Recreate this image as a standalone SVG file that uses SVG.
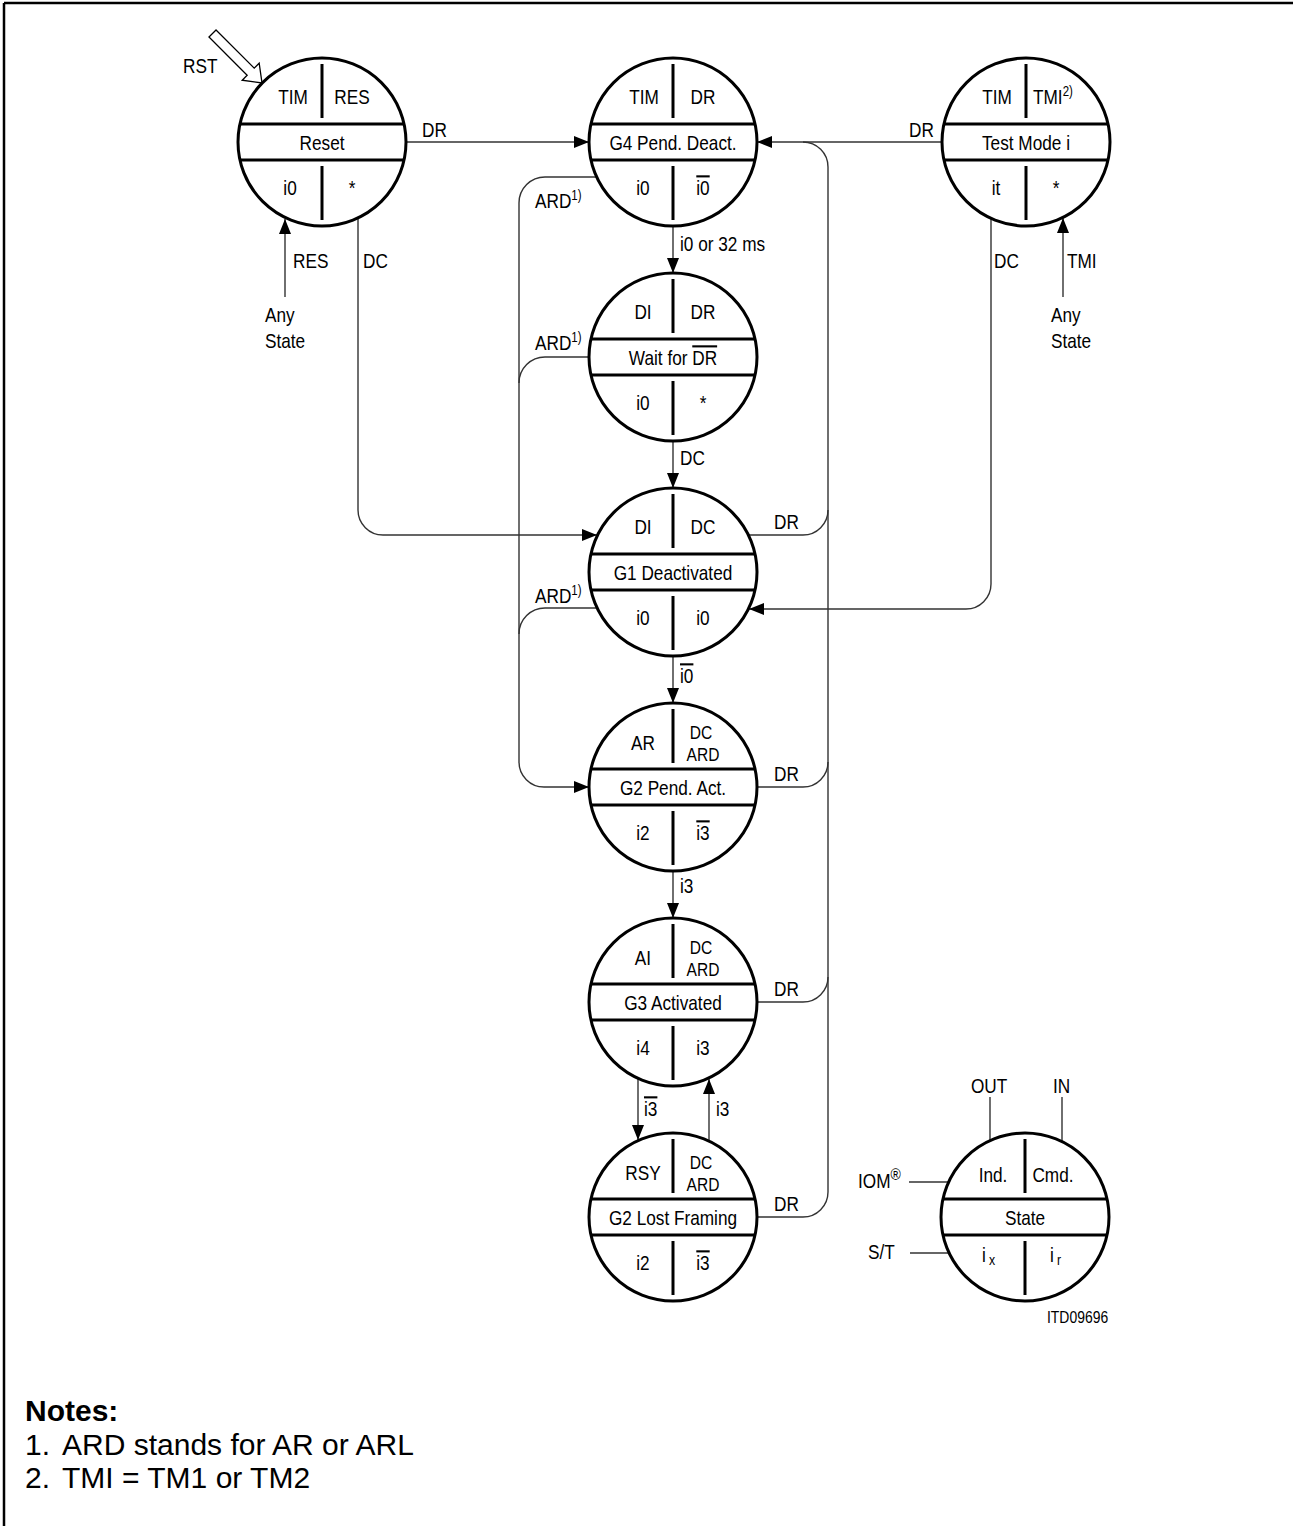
<svg xmlns="http://www.w3.org/2000/svg" xmlns:xlink="http://www.w3.org/1999/xlink" width="1293" height="1526" viewBox="0 0 1293 1526">
<style>
.t{font-family:"Liberation Sans",Arial,sans-serif;font-size:21px;fill:#000;transform-box:fill-box;transform-origin:50% 50%;transform:scaleX(0.82)}
.s{transform-origin:0 50%}
.m{text-anchor:middle}
.two{font-size:19px}
.sup{font-size:14px}
.ov{text-decoration:overline}
.c{fill:none;stroke:#333;stroke-width:1.4}
.ca{fill:none;stroke:#333;stroke-width:1.4;marker-end:url(#ah)}
.n{font-family:"Liberation Sans",Arial,sans-serif;font-size:30px;fill:#000}
</style>
<defs>
<marker id="ah" markerWidth="15" markerHeight="12" refX="15" refY="6" orient="auto" markerUnits="userSpaceOnUse"><path d="M0,0 L15,6 L0,12 z" fill="#000"/></marker>
<g id="frame" fill="none" stroke="#000" stroke-width="3">
<circle cx="0" cy="0" r="84" fill="#fff"/>
<line x1="-82" y1="-18" x2="82" y2="-18"/>
<line x1="-82" y1="18" x2="82" y2="18"/>
<line x1="0" y1="-78" x2="0" y2="-24"/>
<line x1="0" y1="24" x2="0" y2="78"/>
</g>
</defs>
<rect width="1293" height="1526" fill="#fff"/>
<g id="border" stroke="#000" stroke-width="2.5" fill="none">
<line x1="4" y1="3" x2="1293" y2="3"/>
<line x1="4" y1="3" x2="4" y2="1526"/>
</g>

<g id="connectors">
<polygon points="-70,-5 -16,-5 -16,-12 0,0 -16,12 -16,5 -70,5" transform="translate(262,83) rotate(45)" fill="#fff" stroke="#000" stroke-width="1.3"/>
<path class="ca" d="M406 142 L589 142"/>
<path class="ca" d="M942 142 L757 142"/>
<path class="c" d="M828 1192 L828 167 A25 25 0 0 0 803 142"/>
<path class="c" d="M749 535 L803 535 A25 25 0 0 0 828 510"/>
<path class="c" d="M757 787 L803 787 A25 25 0 0 0 828 762"/>
<path class="c" d="M757 1002 L803 1002 A25 25 0 0 0 828 977"/>
<path class="c" d="M757 1217 L803 1217 A25 25 0 0 0 828 1192"/>
<path class="ca" d="M358 218 L358 510 A25 25 0 0 0 383 535 L597 535"/>
<path class="ca" d="M991 218 L991 584 A25 25 0 0 1 966 609 L749 609"/>
<path class="ca" d="M285 297 L285 219"/>
<path class="ca" d="M1063 297 L1063 218"/>
<path class="ca" d="M673 226 L673 273"/>
<path class="ca" d="M673 441 L673 488"/>
<path class="ca" d="M673 656 L673 703"/>
<path class="ca" d="M673 871 L673 918"/>
<path class="ca" d="M638 1078 L638 1140"/>
<path class="ca" d="M709 1141 L709 1079"/>
<path class="ca" d="M597 177 L545 177 A26 26 0 0 0 519 203 L519 762 A25 25 0 0 0 544 787 L589 787"/>
<path class="c" d="M589 357 L545 357 A26 26 0 0 0 519 383"/>
<path class="c" d="M597 608 L545 608 A26 26 0 0 0 519 634"/>
<path class="c" d="M990 1097 L990 1141"/>
<path class="c" d="M1062 1097 L1062 1142"/>
<path class="c" d="M909 1182 L949 1182"/>
<path class="c" d="M910 1253 L949 1253"/>

<text class="t s" x="183" y="73">RST</text>
<text class="t s" x="422" y="137">DR</text>
<text class="t s" x="909" y="137">DR</text>
<text class="t s" x="293" y="268">RES</text>
<text class="t s" x="363" y="268">DC</text>
<text class="t s" x="265" y="322">Any</text>
<text class="t s" x="265" y="348">State</text>
<text class="t s" x="994" y="268">DC</text>
<text class="t s" x="1067" y="268">TMI</text>
<text class="t s" x="1051" y="322">Any</text>
<text class="t s" x="1051" y="348">State</text>
<text class="t s" x="680" y="251">i0 or 32 ms</text>
<text class="t s" x="680" y="465">DC</text>
<text class="t s ov" x="680" y="683">i0</text>
<text class="t s" x="680" y="893">i3</text>
<text class="t s ov" x="644" y="1116">i3</text>
<text class="t s" x="716" y="1116">i3</text>
<text class="t s" x="535" y="208">ARD<tspan class="sup" dy="-8">1)</tspan></text>
<text class="t s" x="535" y="350">ARD<tspan class="sup" dy="-8">1)</tspan></text>
<text class="t s" x="535" y="603">ARD<tspan class="sup" dy="-8">1)</tspan></text>
<text class="t s" x="774" y="529">DR</text>
<text class="t s" x="774" y="781">DR</text>
<text class="t s" x="774" y="996">DR</text>
<text class="t s" x="774" y="1211">DR</text>
<text class="t s" x="971" y="1093">OUT</text>
<text class="t s" x="1053" y="1093">IN</text>
<text class="t s" x="858" y="1188">IOM<tspan font-size="17" dy="-8">®</tspan></text>
<text class="t s" x="868" y="1259">S/T</text>
</g>

<g id="reset">
<use xlink:href="#frame" x="322" y="142"/>
<text class="t m" x="293" y="104">TIM</text>
<text class="t m" x="352" y="104">RES</text>
<text class="t m" x="322" y="150">Reset</text>
<text class="t m" x="290" y="195">i0</text>
<text class="t m" x="352" y="195">*</text>
</g>
<g id="g4">
<use xlink:href="#frame" x="673" y="142"/>
<text class="t m" x="644" y="104">TIM</text>
<text class="t m" x="703" y="104">DR</text>
<text class="t m" x="673" y="150">G4 Pend. Deact.</text>
<text class="t m" x="643" y="195">i0</text>
<text class="t m ov" x="703" y="195">i0</text>
</g>
<g id="testmode">
<use xlink:href="#frame" x="1026" y="142"/>
<text class="t m" x="997" y="104">TIM</text>
<text class="t s" x="1033" y="104">TMI<tspan class="sup" dy="-8">2)</tspan></text>
<text class="t m" x="1026" y="150">Test Mode i</text>
<text class="t m" x="996" y="195">it</text>
<text class="t m" x="1056" y="195">*</text>
</g>
<g id="waitfordr">
<use xlink:href="#frame" x="673" y="357"/>
<text class="t m" x="643" y="319">DI</text>
<text class="t m" x="703" y="319">DR</text>
<text class="t m" x="673" y="365">Wait for <tspan class="ov">DR</tspan></text>
<text class="t m" x="643" y="410">i0</text>
<text class="t m" x="703" y="410">*</text>
</g>
<g id="g1">
<use xlink:href="#frame" x="673" y="572"/>
<text class="t m" x="643" y="534">DI</text>
<text class="t m" x="703" y="534">DC</text>
<text class="t m" x="673" y="580">G1 Deactivated</text>
<text class="t m" x="643" y="625">i0</text>
<text class="t m" x="703" y="625">i0</text>
</g>
<g id="g2pend">
<use xlink:href="#frame" x="673" y="787"/>
<text class="t m" x="643" y="750">AR</text>
<text class="t m two" x="701" y="739">DC</text>
<text class="t m two" x="703" y="761">ARD</text>
<text class="t m" x="673" y="795">G2 Pend. Act.</text>
<text class="t m" x="643" y="840">i2</text>
<text class="t m ov" x="703" y="840">i3</text>
</g>
<g id="g3">
<use xlink:href="#frame" x="673" y="1002"/>
<text class="t m" x="643" y="965">AI</text>
<text class="t m two" x="701" y="954">DC</text>
<text class="t m two" x="703" y="976">ARD</text>
<text class="t m" x="673" y="1010">G3 Activated</text>
<text class="t m" x="643" y="1055">i4</text>
<text class="t m" x="703" y="1055">i3</text>
</g>
<g id="g2lost">
<use xlink:href="#frame" x="673" y="1217"/>
<text class="t m" x="643" y="1180">RSY</text>
<text class="t m two" x="701" y="1169">DC</text>
<text class="t m two" x="703" y="1191">ARD</text>
<text class="t m" x="673" y="1225">G2 Lost Framing</text>
<text class="t m" x="643" y="1270">i2</text>
<text class="t m ov" x="703" y="1270">i3</text>
</g>
<g id="legend">
<use xlink:href="#frame" x="1025" y="1217"/>
<text class="t m" x="993" y="1182">Ind.</text>
<text class="t m" x="1053" y="1182">Cmd.</text>
<text class="t m" x="1025" y="1225">State</text>
<text class="t s" x="982" y="1262">i<tspan font-size="15" dx="4" dy="3">x</tspan></text>
<text class="t s" x="1050" y="1262">i<tspan font-size="15" dx="4" dy="3">r</tspan></text>
<text class="t s" x="1047" y="1323" style="font-size:17px">ITD09696</text>
</g>

<g id="notes">
<text class="n" x="25" y="1421" font-weight="bold">Notes:</text>
<text class="n" x="25" y="1455">1.<tspan x="62">ARD stands for AR or ARL</tspan></text>
<text class="n" x="25" y="1488">2.<tspan x="62">TMI = TM1 or TM2</tspan></text>
</g>
</svg>
